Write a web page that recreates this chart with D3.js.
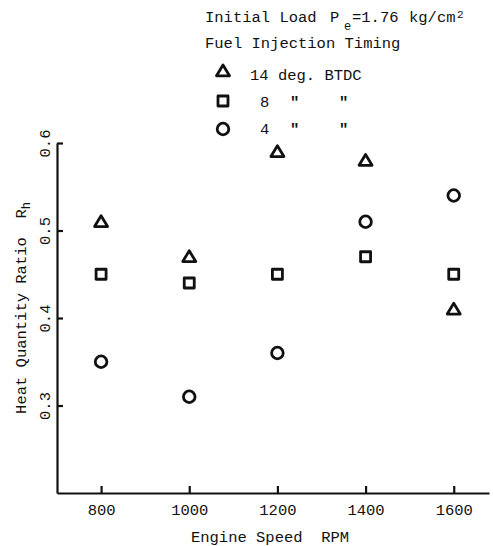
<!DOCTYPE html>
<html>
<head>
<meta charset="utf-8">
<script src="https://cdn.jsdelivr.net/npm/d3@7"></script>
<style>
  body { margin: 0; background: #fff; }
  svg text { font-family: "Liberation Mono", "Courier New", monospace; fill: #111; }
</style>
</head>
<body>
<div id="chart"></div>
<script>
// values
var rpm = [800, 1000, 1200, 1400, 1600];
var ratio14 = [0.51, 0.47, 0.59, 0.58, 0.41];
var ratio8 = [0.45, 0.44, 0.45, 0.47, 0.45];
var ratio4 = [0.35, 0.31, 0.36, 0.51, 0.54];
var xTicks = [800, 1000, 1200, 1400, 1600];
var yTicks = [0.3, 0.4, 0.5, 0.6];
var legendNums = ["14", "8", "4"];

var svgWidth = 493;
var svgHeight = 546;

var svg = d3.select("#chart")
    .append("svg")
    .attr("width", svgWidth)
    .attr("height", svgHeight);

var xScale = d3.scaleLinear()
    .domain([700, 1680])
    .range([57, 489]);

var yScale = d3.scaleLinear()
    .domain([0.2, 0.6])
    .range([493, 143]);

var ink = "#111";
var fs = "15.5px";

function addText(x, y, str, size) {
    return svg.append("text")
        .attr("x", x).attr("y", y)
        .style("font-size", size || fs)
        .style("white-space", "pre")
        .text(str);
}

// axes
var leftAxis = d3.axisLeft(yScale)
    .tickValues(yTicks)
    .tickSize(-6)
    .tickSizeOuter(0)
    .tickFormat(d3.format(".1f"));

var bottomAxis = d3.axisBottom(xScale)
    .tickValues(xTicks)
    .tickSize(-7)
    .tickSizeOuter(0)
    .tickFormat(d3.format("d"));

var gy = svg.append("g")
    .attr("transform", "translate(57,0)")
    .call(leftAxis);

var gx = svg.append("g")
    .attr("transform", "translate(0,493)")
    .call(bottomAxis);

[gx, gy].forEach(function(g) {
    g.attr("font-family", null);
    g.select(".domain").attr("stroke", ink).attr("stroke-width", 2.2);
    g.selectAll(".tick line").attr("stroke", ink).attr("stroke-width", 2.2);
    g.selectAll("text").style("font-size", fs);
});

gy.selectAll(".tick text")
    .attr("x", 0).attr("y", 0).attr("dy", 0)
    .attr("text-anchor", "middle")
    .attr("transform", "translate(-7,0) rotate(-90)");

gx.selectAll(".tick text")
    .attr("y", 22).attr("dy", 0);

// axis titles
addText(270, 542, "Engine Speed  RPM").attr("text-anchor", "middle");

var yTitle = svg.append("text")
    .attr("text-anchor", "middle")
    .attr("transform", "translate(26,308) rotate(-90)")
    .style("font-size", fs)
    .style("white-space", "pre");
yTitle.append("tspan").text("Heat Quantity Ratio  R");
yTitle.append("tspan").attr("dy", 4).style("font-size", "12px").text("h");

// markers
var triPath = "M0,-6L6.5,4.8L-6.5,4.8Z";
var sqPath = "M-5,-5H5V5H-5Z";

function drawMarker(sel, kind) {
    if (kind === "tri") {
        sel.append("path").attr("d", triPath);
    } else if (kind === "sq") {
        sel.append("path").attr("d", sqPath);
    } else {
        sel.append("circle").attr("r", 5.8);
    }
    sel.selectAll("path, circle")
        .attr("fill", "none")
        .attr("stroke", ink)
        .attr("stroke-width", 2.8)
        .attr("stroke-linejoin", "round");
}

var series = [
    { kind: "tri", vals: ratio14 },
    { kind: "sq", vals: ratio8 },
    { kind: "circ", vals: ratio4 }
];

series.forEach(function(s) {
    var pts = svg.append("g").selectAll("g")
        .data(rpm.map(function(r, i) { return { x: r, y: s.vals[i] }; }))
        .enter().append("g")
        .attr("transform", function(d) {
            return "translate(" + xScale(d.x) + "," + yScale(d.y) + ")";
        });
    drawMarker(pts, s.kind);
});

// legend header
addText(205, 22, "Initial Load");
addText(330, 22, "P");
addText(344, 30, "e", "12px");
addText(352, 22, "=1.76");
addText(409, 22, "kg/cm");
addText(457, 18, "2", "11px");
addText(205, 48, "Fuel Injection Timing");

var legRows = [
    { kind: "tri", my: 71, ty: 80 },
    { kind: "sq", my: 101, ty: 107 },
    { kind: "circ", my: 129, ty: 134 }
];

legRows.forEach(function(r, i) {
    var m = svg.append("g").attr("transform", "translate(223," + r.my + ")");
    drawMarker(m, r.kind);
    if (i === 0) {
        addText(250, r.ty, legendNums[i] + " deg. BTDC");
    } else {
        addText(260, r.ty, legendNums[i]);
        [290, 339].forEach(function(qx) {
            addText(qx, r.ty, "\"").style("font-weight", "bold");
        });
    }
});
</script>
</body>
</html>
